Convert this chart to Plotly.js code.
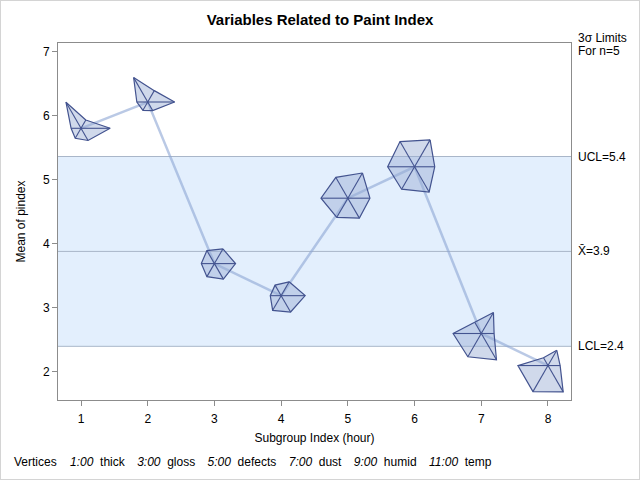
<!DOCTYPE html>
<html>
<head>
<meta charset="utf-8">
<script src="https://cdn.plot.ly/plotly-3.0.1.min.js"></script>
<style>
  html, body { margin: 0; padding: 0; background: #fff; }
  #chart { width: 640px; height: 480px; }
  #frame { position: absolute; left: 0; top: 0; width: 640px; height: 480px; box-sizing: border-box; border: 1px solid #d4d4d4; pointer-events: none; }
</style>
</head>
<body>
<div id="chart"></div>
<div id="frame"></div>
<script>
// ---- data ----
const subgroups = [1, 2, 3, 4, 5, 6, 7, 8];
const meanPindex = [5.80, 6.21, 3.69, 3.19, 4.71, 5.20, 2.60, 2.10];
// relative star vertex lengths (0..1) for each variable
const thick   = [0.30, 0.41, 0.53, 0.50, 0.91, 0.97, 0.76, 0.55];
const gloss   = [0.91, 0.84, 0.66, 0.75, 0.69, 0.63, 0.40, 0.38];
const defects = [0.44, 0.31, 0.56, 0.59, 0.72, 0.91, 0.95, 0.95];
const dust    = [0.36, 0.30, 0.47, 0.53, 0.69, 0.81, 0.84, 0.94];
const humid   = [0.31, 0.34, 0.41, 0.34, 0.84, 0.84, 0.88, 0.94];
const temp    = [0.94, 0.88, 0.47, 0.38, 0.75, 0.91, 0.40, 0.28];
const ucl = 5.36, centerLine = 3.88, lcl = 2.40;
const uclLabel = 'UCL=5.4', centerLabel = 'X\u0304=3.9', lclLabel = 'LCL=2.4';
const xTickVals = [1, 2, 3, 4, 5, 6, 7, 8];
const yTickVals = [2, 3, 4, 5, 6, 7];
const vertexClock = ['1:00', '3:00', '5:00', '7:00', '9:00', '11:00'];
const vertexNames = ['thick', 'gloss', 'defects', 'dust', 'humid', 'temp'];

// ---- layout geometry ----
const W = 640, H = 480;
const M = {l: 58, r: 69, t: 43, b: 80};
const xRange = [0.655, 8.345];
const yRange = [1.563, 7.13];
const plotW = W - M.l - M.r, plotH = H - M.t - M.b;
const pxX = plotW / (xRange[1] - xRange[0]);
const pxY = plotH / (yRange[1] - yRange[0]);
const STAR_R = 32; // px for relative length 1.0

const vars = [thick, gloss, defects, dust, humid, temp];
const angles = [30, 90, 150, 210, 270, 330]; // clock positions 1,3,5,7,9,11

const font = 'Liberation Sans, Arial, Helvetica, sans-serif';
const traces = [];

// connecting line
traces.push({
  x: subgroups, y: meanPindex, type: 'scatter', mode: 'lines',
  line: {color: 'rgba(140,165,212,0.6)', width: 2.5},
  hoverinfo: 'skip', showlegend: false
});

subgroups.forEach((sx, i) => {
  const cy = meanPindex[i];
  const vx = [], vy = [];
  vars.forEach((v, k) => {
    const a = angles[k] * Math.PI / 180;
    const r = v[i] * STAR_R;
    vx.push(sx + r * Math.sin(a) / pxX);
    vy.push(cy + r * Math.cos(a) / pxY);
  });
  traces.push({
    x: vx.concat([vx[0]]), y: vy.concat([vy[0]]), type: 'scatter', mode: 'lines',
    fill: 'toself', fillcolor: 'rgba(150,170,210,0.45)',
    line: {color: '#43538f', width: 1.2}, hoverinfo: 'skip', showlegend: false
  });
  const sxs = [], sys = [];
  vx.forEach((x, k) => { sxs.push(sx, x, null); sys.push(cy, vy[k], null); });
  traces.push({
    x: sxs, y: sys, type: 'scatter', mode: 'lines',
    line: {color: '#43538f', width: 1.1}, hoverinfo: 'skip', showlegend: false
  });
});

const limColor = '#a9b6c9';
const shapes = [
  {type: 'rect', xref: 'paper', yref: 'y', x0: 0, x1: 1, y0: lcl, y1: ucl,
   fillcolor: '#e3effd', line: {width: 0}, layer: 'below'},
  {type: 'line', xref: 'paper', yref: 'y', x0: 0, x1: 1, y0: ucl, y1: ucl, line: {color: limColor, width: 1}, layer: 'below'},
  {type: 'line', xref: 'paper', yref: 'y', x0: 0, x1: 1, y0: centerLine, y1: centerLine, line: {color: limColor, width: 1}, layer: 'below'},
  {type: 'line', xref: 'paper', yref: 'y', x0: 0, x1: 1, y0: lcl, y1: lcl, line: {color: limColor, width: 1}, layer: 'below'}
];

const rx = 1 + 5 / plotW;
const annFont = {family: font, size: 12, color: '#000'};
const annotations = [
  {xref: 'paper', yref: 'paper', x: rx, y: 1 + 5 / plotH, xanchor: 'left', yanchor: 'middle', text: '3\u03c3 Limits', showarrow: false, font: annFont},
  {xref: 'paper', yref: 'paper', x: rx, y: 1 - 8 / plotH, xanchor: 'left', yanchor: 'middle', text: 'For n=5', showarrow: false, font: annFont},
  {xref: 'paper', yref: 'y', x: rx, y: ucl, xanchor: 'left', yanchor: 'middle', text: uclLabel, showarrow: false, font: annFont},
  {xref: 'paper', yref: 'y', x: rx, y: centerLine, xanchor: 'left', yanchor: 'middle', text: centerLabel, showarrow: false, font: annFont},
  {xref: 'paper', yref: 'y', x: rx, y: lcl, xanchor: 'left', yanchor: 'middle', text: lclLabel, showarrow: false, font: annFont}
];
// footnote: "Vertices   1:00 thick   3:00 gloss ..."
const sp = n => '\u00a0'.repeat(n);
const groupGap = sp(3) + '\u2009';
let foot = 'Vertices' + sp(4);
vertexClock.forEach((c, k) => {
  foot += '<i>' + c + '</i>' + sp(2) + vertexNames[k] + (k < vertexClock.length - 1 ? groupGap : '');
});
annotations.push({xref: 'paper', yref: 'paper', x: (12 - M.l) / plotW, y: -(462 - (H - M.b)) / plotH,
  xanchor: 'left', yanchor: 'middle', text: foot, showarrow: false, font: annFont});

const axisCommon = {
  showgrid: false, zeroline: false, showline: true, mirror: true,
  linecolor: '#8c8c8c', linewidth: 1, ticks: 'outside', ticklen: 5, tickcolor: '#8c8c8c',
  tickfont: {family: font, size: 12, color: '#000'}, fixedrange: true
};

const layout = {
  width: W, height: H, margin: M, paper_bgcolor: '#fff', plot_bgcolor: '#fff',
  title: {text: '<b>Variables Related to Paint Index</b>', x: 0.5, xref: 'container', y: 1 - 20 / H, yref: 'container', yanchor: 'middle', xanchor: 'center',
          font: {family: font, size: 15, color: '#000'}},
  xaxis: Object.assign({}, axisCommon, {range: xRange, tickvals: xTickVals, ticktext: xTickVals.map(String), ticklabelstandoff: 3,
          title: {text: 'Subgroup Index (hour)', font: {family: font, size: 12, color: '#000'}, standoff: 8}}),
  yaxis: Object.assign({}, axisCommon, {range: yRange, tickvals: yTickVals, ticktext: yTickVals.map(String),
          title: {text: 'Mean of pindex', font: {family: font, size: 12, color: '#000'}, standoff: 14}}),
  shapes: shapes, annotations: annotations, showlegend: false
};

Plotly.newPlot('chart', traces, layout, {staticPlot: true, displayModeBar: false});
</script>
</body>
</html>
